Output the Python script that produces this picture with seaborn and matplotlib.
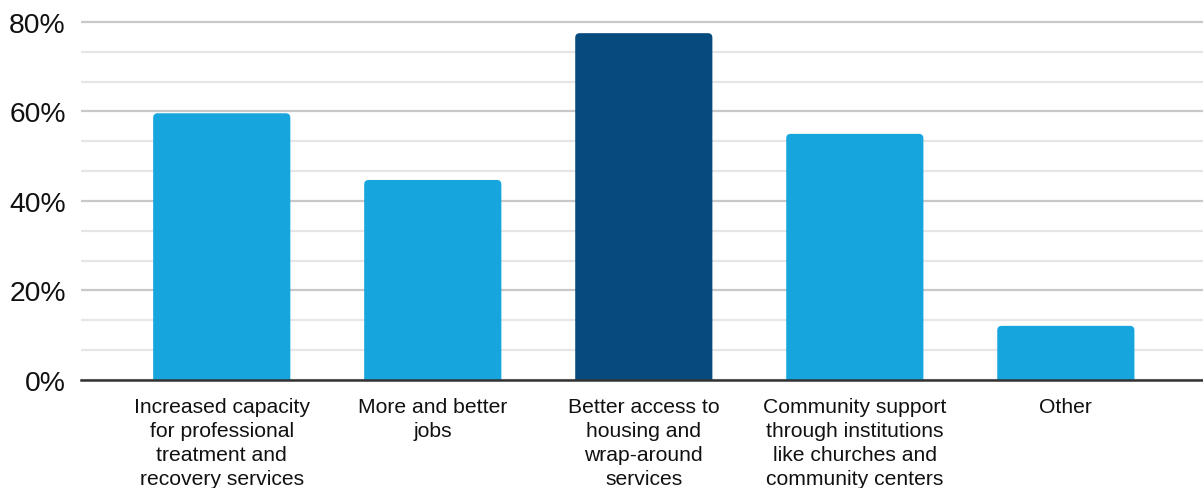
import matplotlib
matplotlib.use("Agg")
import matplotlib.pyplot as plt
import seaborn as sns
import pandas as pd
from matplotlib.ticker import MultipleLocator, FuncFormatter
from matplotlib.patches import FancyBboxPatch

categories = [
    "Increased capacity\nfor professional\ntreatment and\nrecovery services",
    "More and better\njobs",
    "Better access to\nhousing and\nwrap-around\nservices",
    "Community support\nthrough institutions\nlike churches and\ncommunity centers",
    "Other",
]
values = [59.6, 44.7, 77.5, 55.0, 12.1]
bar_colors = ["#17a5de", "#17a5de", "#074b7e", "#17a5de", "#17a5de"]
y_ticks = [0, 20, 40, 60, 80]

sns.set_theme(style="white")
plt.rcParams['font.family'] = ['Liberation Sans', 'DejaVu Sans']

df = pd.DataFrame({"category": categories, "value": values})

fig = plt.figure(figsize=(12.03, 4.89), dpi=100)
ax = fig.add_axes([81/1203, 1 - 381/489, 1 - 81/1203, (381 - 18.5)/489])

sns.barplot(data=df, x="category", y="value", hue="category", palette=bar_colors,
            legend=False, width=0.65, ax=ax, saturation=1, edgecolor="none")

ax.set_ylim(0, 81)
ax.set_xlim(-0.667, 4.65)

# round the top corners of the bars
x_per_px = (4.65 + 0.667) / (1203 - 81)
y_per_px = 81 / (381 - 18.5)
radius_px = 4.5
for p in list(ax.patches):
    x, y = p.get_x(), p.get_y()
    w, h = p.get_width(), p.get_height()
    fc = p.get_facecolor()
    p.set_visible(False)
    rp = FancyBboxPatch((x, y - 3), w, h + 3,
                        boxstyle=f"round,pad=0,rounding_size={radius_px * x_per_px}",
                        mutation_aspect=y_per_px / x_per_px,
                        facecolor=fc, edgecolor="none", zorder=3)
    ax.add_patch(rp)

ax.yaxis.set_major_locator(MultipleLocator(20))
ax.yaxis.set_minor_locator(MultipleLocator(20/3))
ax.set_yticks(y_ticks)
ax.yaxis.set_major_formatter(FuncFormatter(lambda v, p: f"{int(round(v))}%"))
ax.grid(axis="y", which="major", color="#c8c8c8", linewidth=1.6, zorder=0)
ax.grid(axis="y", which="minor", color="#e6e6e6", linewidth=1.6, zorder=0)
ax.set_axisbelow(True)

for s in ["top", "right", "left"]:
    ax.spines[s].set_visible(False)
ax.spines["bottom"].set_color("#333333")
ax.spines["bottom"].set_linewidth(1.8)
ax.spines["bottom"].set_zorder(5)

ax.tick_params(axis="y", which="both", length=0, pad=11, labelsize=20.3, labelcolor="#111111")
ax.tick_params(axis="x", length=0, pad=12.5, labelsize=15.2, labelcolor="#111111")
for lab in ax.get_xticklabels():
    lab.set_linespacing(1.33)
    lab.set_ha("center")

ax.set_xlabel("")
ax.set_ylabel("")

fig.savefig("out.png", dpi=100)
